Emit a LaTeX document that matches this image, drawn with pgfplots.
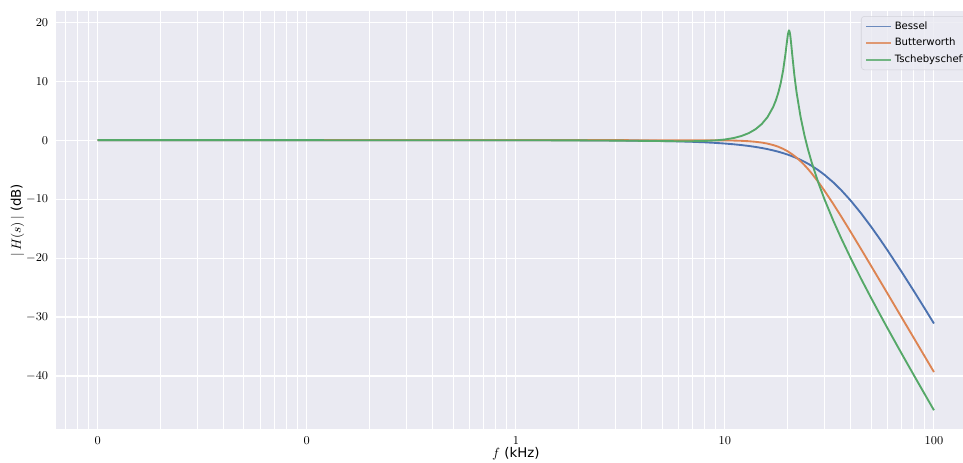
\documentclass[border=0pt]{standalone}
\usepackage[no-math]{fontspec}
\setmainfont{DejaVu Sans}
\usepackage{pgfplots}
\pgfplotsset{compat=1.18}
\usepackage{pgfplotstable}
\definecolor{bg}{HTML}{EAEAF2}
\definecolor{lgedge}{HTML}{CCCCD4}
\definecolor{cbessel}{HTML}{4C72B0}
\definecolor{cbutter}{HTML}{DD8452}
\definecolor{ctsch}{HTML}{55A868}

\pgfplotstableread{
f db
0.01 0
0.1 -0.0001
0.5 -0.0014
1 -0.0056
2 -0.022
3 -0.050
4 -0.089
5 -0.140
6 -0.202
7 -0.276
8 -0.361
9 -0.459
10 -0.569
11 -0.693
12 -0.829
13 -0.980
14 -1.145
15 -1.324
16 -1.519
17 -1.730
18 -1.956
19 -2.199
20 -2.458
21 -2.734
22 -3.027
23 -3.335
24 -3.659
25 -3.999
26 -4.353
28 -5.101
30 -5.895
33 -7.155
36 -8.469
40 -10.260
45 -12.491
50 -14.658
55 -16.732
60 -18.700
70 -22.319
80 -25.555
90 -28.465
100 -31.100
}\bessel

\pgfplotstableread{
f db
0.01 0
1 0
2 0
5 -0.0006
6 -0.0017
7 -0.0044
8 -0.0098
9 -0.0198
10 -0.0371
11 -0.0655
12 -0.110
13 -0.176
14 -0.272
15 -0.405
16 -0.584
17 -0.818
18 -1.112
19 -1.473
20 -1.901
21 -2.396
22 -2.952
23 -3.561
24 -4.216
25 -4.907
26 -5.625
28 -7.106
30 -8.608
33 -10.822
36 -12.941
40 -15.582
45 -18.589
50 -21.306
55 -23.776
60 -26.036
70 -30.047
80 -33.523
90 -36.592
100 -39.337
}\butter

\pgfplotstableread{
f db
0.01 0
0.1 -0.0001
0.5 -0.0023
1 -0.009
2 -0.034
3 -0.072
4 -0.114
5 -0.153
6 -0.177
7 -0.175
8 -0.134
9 -0.042
10 0.118
11 0.361
12 0.711
13 1.194
14 1.849
15 2.731
16 3.929
17 5.593
17.5 6.684
18 8.022
18.5 9.704
19 11.876
19.5 14.713
19.75 16.349
20 17.851
20.15 18.440
20.25 18.595
20.3 18.586
20.45 18.221
20.6 17.430
20.8 16.016
21 14.488
21.5 11.005
22 8.205
23 4.005
24 0.883
25 -1.627
26 -3.746
28 -7.237
30 -10.095
33 -13.652
36 -16.639
40 -20.035
45 -23.637
50 -26.737
55 -29.471
60 -31.922
70 -36.187
80 -39.822
90 -42.995
100 -45.814
}\tsch

\begin{document}
\begin{tikzpicture}
\begin{axis}[
  at={(41.925pt,25.35pt)}, anchor=south west,
  scale only axis, width=689.9pt, height=313.4pt,
  xmode=log, log basis x=10,
  xmin=0.0063096, xmax=158.49, ymin=-49.03, ymax=21.86,
  axis background/.style={fill=bg},
  axis line style={draw=none},
  major tick length=0pt, minor tick length=0pt,
  xtick={0.01,0.1,1,10,100},
  xticklabels={$0$,$0$,$1$,$10$,$100$},
  minor xtick={0.007,0.008,0.009,0.02,0.03,0.04,0.05,0.06,0.07,0.08,0.09,0.2,0.3,0.4,0.5,0.6,0.7,0.8,0.9,2,3,4,5,6,7,8,9,20,30,40,50,60,70,80,90},
  ytick={-40,-30,-20,-10,0,10,20},
  xmajorgrids=true, xminorgrids=true, ymajorgrids=true,
  major grid style={white, line width=0.8pt},
  minor grid style={white, line width=0.55pt},
  tick label style={font=\fontsize{9}{11}\selectfont},
  xticklabel style={yshift=-2.2pt},
  yticklabel style={xshift=-2.3pt},
  xlabel={$f$ (kHz)},
  ylabel={$|\,H(s)\,|$ (dB)},
  label style={font=\fontsize{10.2}{12}\selectfont},
  every axis x label/.style={at={(axis description cs:0.5,-0.0598)}, anchor=center},
  every axis y label/.style={at={(axis description cs:-0.04174,0.5)}, anchor=center, rotate=90},
  legend cell align=left,
  legend image code/.code={\draw[#1, line width=1.4pt] (0pt,0pt) -- (18.75pt,0pt);},
  legend style={at={(0.8752,0.98875)}, anchor=north west,
    fill=bg, fill opacity=0.8, draw opacity=0.8, text opacity=1,
    draw=lgedge, rounded corners=2.5pt,
    font=\fontsize{7.6}{9}\selectfont,
    inner xsep=3pt, inner ysep=2pt, row sep=1.2pt},
]
\addplot[cbessel, line width=1.4pt] table[x=f,y=db] {\bessel};
\addlegendentry{Bessel}
\addplot[cbutter, line width=1.4pt] table[x=f,y=db] {\butter};
\addlegendentry{Butterworth}
\addplot[ctsch, line width=1.4pt] table[x=f,y=db] {\tsch};
\addlegendentry{Tschebyscheff}
\end{axis}
\pgfresetboundingbox
\path[use as bounding box] (0pt,0pt) rectangle (722.25pt,347.25pt);
\end{tikzpicture}
\end{document}
